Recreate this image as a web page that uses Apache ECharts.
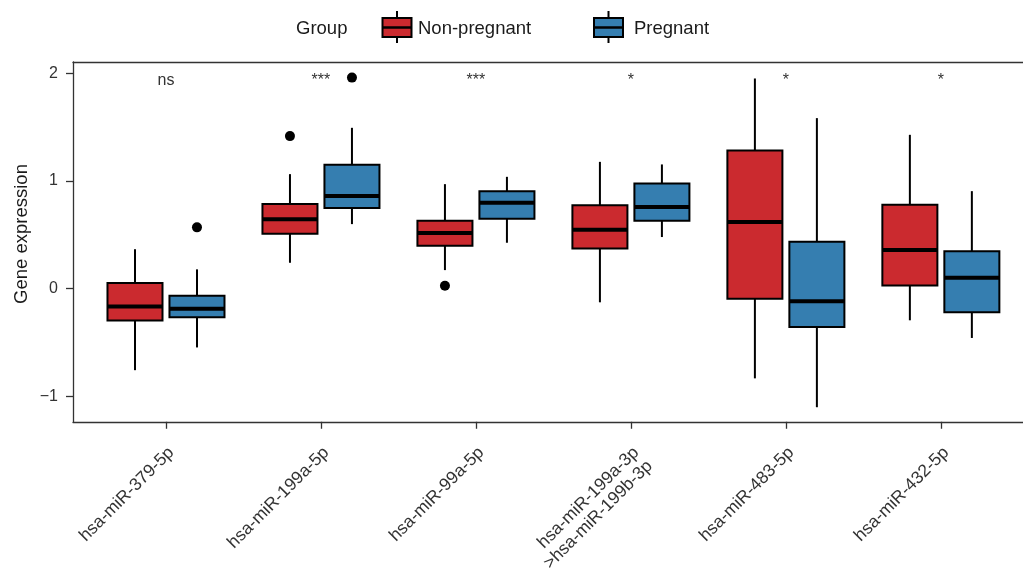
<!DOCTYPE html>
<html>
<head>
<meta charset="utf-8">
<script src="https://cdn.jsdelivr.net/npm/echarts@6/dist/echarts.min.js"></script>
<style>
html,body{margin:0;padding:0;background:#fff;}
#chart{width:1023px;height:575px;}
</style>
</head>
<body>
<div id="chart"></div>
<script>
// ---- data ----
const categories = [
  'hsa-miR-379-5p',
  'hsa-miR-199a-5p',
  'hsa-miR-99a-5p',
  'hsa-miR-199a-3p\n>hsa-miR-199b-3p',
  'hsa-miR-483-5p',
  'hsa-miR-432-5p'
];
// [lower whisker, Q1, median, Q3, upper whisker]
const nonPregnant = [
  [-0.756, -0.296, -0.164, 0.053, 0.367],
  [0.241, 0.510, 0.644, 0.786, 1.064],
  [0.173, 0.399, 0.517, 0.631, 0.971],
  [-0.126, 0.374, 0.548, 0.774, 1.178],
  [-0.832, -0.093, 0.619, 1.284, 1.952],
  [-0.293, 0.031, 0.359, 0.779, 1.429]
];
const pregnant = [
  [-0.545, -0.265, -0.185, -0.065, 0.180],
  [0.600, 0.749, 0.860, 1.150, 1.494],
  [0.427, 0.649, 0.798, 0.906, 1.039],
  [0.480, 0.631, 0.758, 0.977, 1.154],
  [-1.100, -0.355, -0.117, 0.436, 1.584],
  [-0.457, -0.219, 0.102, 0.347, 0.906]
];
// [category number (1-based), value]
const nonPregnantOutliers = [[2, 1.417], [3, 0.028]];
const pregnantOutliers = [[1, 0.570], [2, 1.960]];
const significance = ['ns', '***', '***', '*', '*', '*'];
const yTicks = [-1, 0, 1, 2];
const groupNames = ['Non-pregnant', 'Pregnant'];

// ---- style ----
const RED = '#CB2A2F';
const BLUE = '#357EB0';
const FONT = 'Liberation Sans, Arial, Helvetica, sans-serif';
const DODGE = 0.2;      // half distance between the two boxes (category units)
const HALF_W = 0.1775;  // half box width (category units)
const SIG_Y = 1.93;

function boxRender(side, color) {
  return function (params, api) {
    const x = api.value(0) + side * DODGE;
    const lo = api.value(1), q1 = api.value(2), med = api.value(3), q3 = api.value(4), hi = api.value(5);
    const c = api.coord([x, med]);
    const xl = api.coord([x - HALF_W, med])[0];
    const xr = api.coord([x + HALF_W, med])[0];
    const yLo = api.coord([x, lo])[1], yQ1 = api.coord([x, q1])[1];
    const yQ3 = api.coord([x, q3])[1], yHi = api.coord([x, hi])[1];
    return {
      type: 'group',
      children: [
        {type: 'line', shape: {x1: c[0], y1: yQ3, x2: c[0], y2: yHi}, style: {stroke: '#000', lineWidth: 2}},
        {type: 'line', shape: {x1: c[0], y1: yQ1, x2: c[0], y2: yLo}, style: {stroke: '#000', lineWidth: 2}},
        {type: 'rect', shape: {x: xl, y: yQ3, width: xr - xl, height: yQ1 - yQ3}, style: {fill: color, stroke: '#000', lineWidth: 2}},
        {type: 'line', shape: {x1: xl, y1: c[1], x2: xr, y2: c[1]}, style: {stroke: '#000', lineWidth: 4}}
      ]
    };
  };
}
function outlierRender(side) {
  return function (params, api) {
    const p = api.coord([api.value(0) + side * DODGE, api.value(1)]);
    return {type: 'circle', shape: {cx: p[0], cy: p[1], r: 5}, style: {fill: '#000'}};
  };
}

const chart = echarts.init(document.getElementById('chart'), null, {renderer: 'canvas'});

function legendKey(x, color) {
  return [
    {type: 'line', shape: {x1: x + 14.5, y1: 11, x2: x + 14.5, y2: 43}, style: {stroke: '#000', lineWidth: 2}},
    {type: 'rect', shape: {x: x, y: 18, width: 29, height: 19}, style: {fill: color, stroke: '#000', lineWidth: 2}},
    {type: 'line', shape: {x1: x, y1: 27.5, x2: x + 29, y2: 27.5}, style: {stroke: '#000', lineWidth: 2.5}}
  ];
}

const X_MIN = 0.4, X_MAX = 6.53; // panel continues past the right edge of the picture

const option = {
  backgroundColor: '#fff',
  animation: false,
  grid: {left: 73, top: 62, right: 0, height: 360, show: false, containLabel: false},
  xAxis: [{
    type: 'value', min: X_MIN, max: X_MAX,
    splitLine: {show: false},
    axisLine: {show: true, onZero: false, lineStyle: {color: '#333', width: 1.3}},
    axisTick: {show: true, customValues: categories.map((c, i) => i + 1), length: 7, lineStyle: {color: '#333', width: 1.3}},
    axisLabel: {
      customValues: categories.map((c, i) => i + 1),
      formatter: v => categories[Math.round(v) - 1] || '',
      rotate: 45, margin: 20, fontSize: 17.5, color: '#333', fontFamily: FONT,
      align: 'right', verticalAlign: 'top', lineHeight: 19, padding: [0, 2, 0, 0]
    }
  }, {
    type: 'value', position: 'top', min: X_MIN, max: X_MAX,
    splitLine: {show: false},
    axisLine: {show: true, onZero: false, lineStyle: {color: '#333', width: 1.3}},
    axisTick: {show: false}, axisLabel: {show: false}
  }],
  yAxis: {
    type: 'value', min: -1.235, max: 2.105,
    splitLine: {show: false},
    axisLine: {show: true, onZero: false, lineStyle: {color: '#333', width: 1.3}},
    axisTick: {show: true, customValues: yTicks, length: 7, lineStyle: {color: '#333', width: 1.3}},
    axisLabel: {
      customValues: yTicks,
      formatter: v => (v < 0 ? '\u2212' + Math.abs(v) : String(v)),
      margin: 15, fontSize: 16, color: '#333', fontFamily: FONT
    }
  },
  graphic: [
    {type: 'text', left: 296, top: 19, style: {text: 'Group', fontSize: 18.5, fontFamily: FONT, fill: '#1a1a1a'}},
    ...legendKey(382.5, RED),
    {type: 'text', left: 418, top: 19, style: {text: groupNames[0], fontSize: 18.5, fontFamily: FONT, fill: '#1a1a1a'}},
    ...legendKey(594, BLUE),
    {type: 'text', left: 634, top: 19, style: {text: groupNames[1], fontSize: 18.5, fontFamily: FONT, fill: '#1a1a1a'}},
    {type: 'text', x: 22, y: 234, rotation: Math.PI / 2,
      style: {text: 'Gene expression', fontSize: 18.5, fontFamily: FONT, fill: '#1a1a1a', align: 'center', verticalAlign: 'middle'}}
  ],
  series: [
    {
      name: groupNames[0], type: 'custom', renderItem: boxRender(-1, RED),
      encode: {x: 0, y: [1, 2, 3, 4, 5]},
      data: nonPregnant.map((d, i) => [i + 1].concat(d)), z: 2
    },
    {
      name: groupNames[1], type: 'custom', renderItem: boxRender(1, BLUE),
      encode: {x: 0, y: [1, 2, 3, 4, 5]},
      data: pregnant.map((d, i) => [i + 1].concat(d)), z: 2
    },
    {type: 'custom', renderItem: outlierRender(-1), encode: {x: 0, y: 1}, data: nonPregnantOutliers, z: 3},
    {type: 'custom', renderItem: outlierRender(1), encode: {x: 0, y: 1}, data: pregnantOutliers, z: 3},
    {
      type: 'custom', z: 4,
      renderItem: function (params, api) {
        const p = api.coord([api.value(0), SIG_Y]);
        return {type: 'text', x: p[0], y: p[1],
          style: {text: significance[params.dataIndex], fontSize: 16, fontFamily: FONT, fill: '#333', align: 'center', verticalAlign: 'middle'}};
      },
      encode: {x: 0},
      data: significance.map((s, i) => [i + 1])
    }
  ]
};
chart.setOption(option);
</script>
</body>
</html>
